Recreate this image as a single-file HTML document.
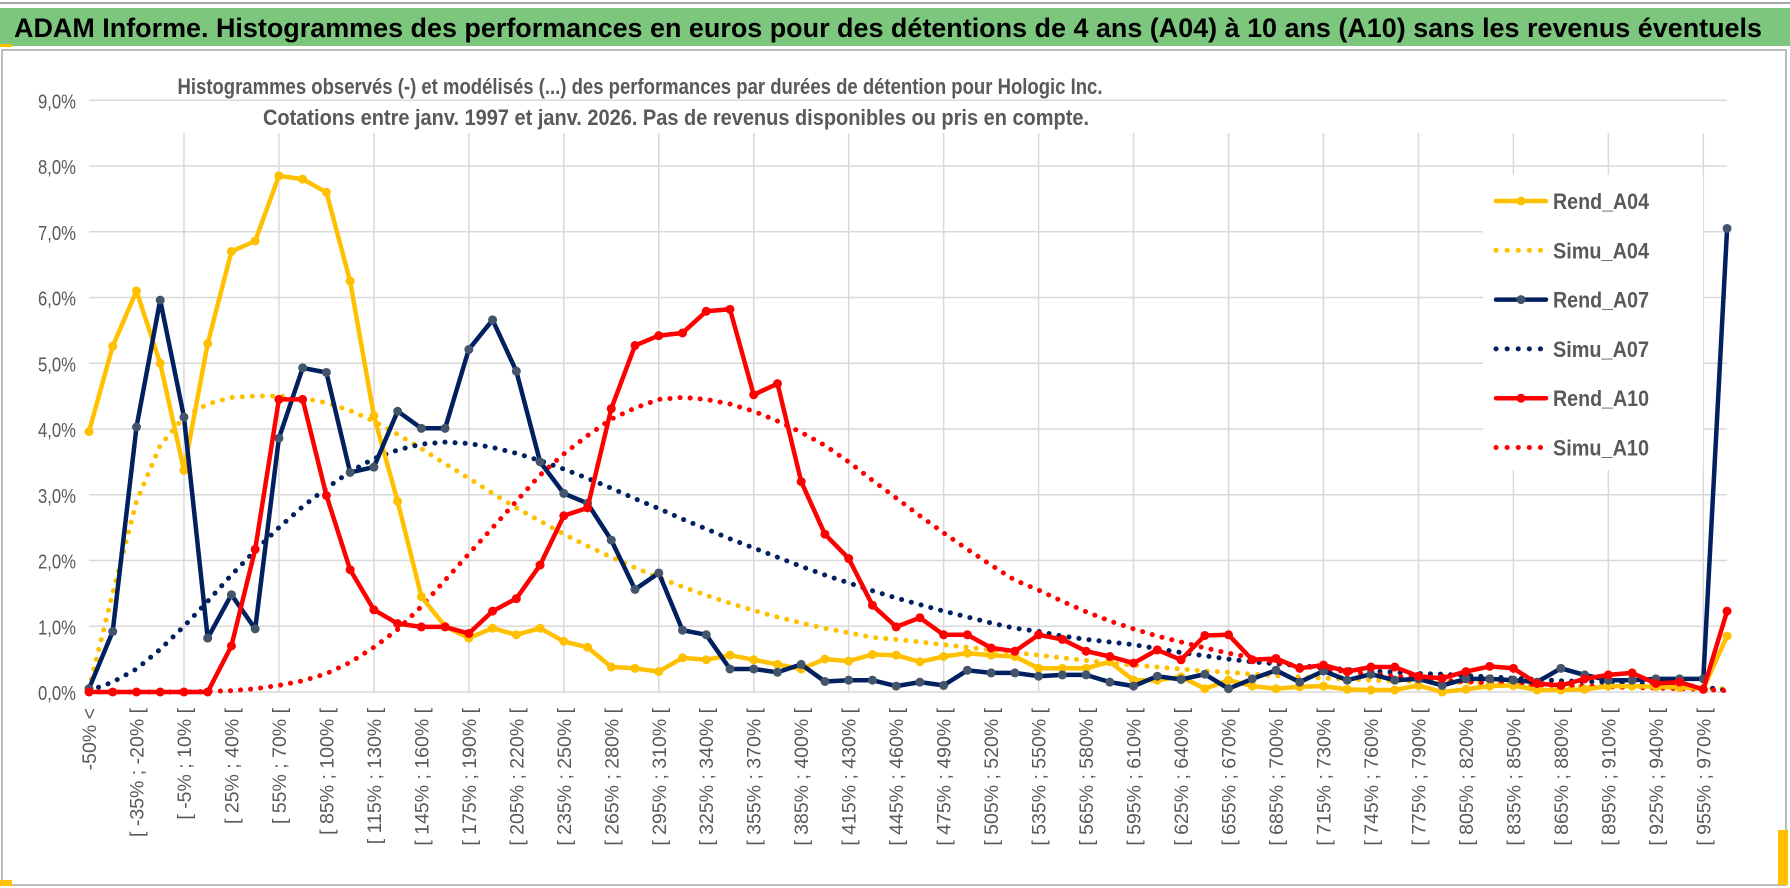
<!DOCTYPE html>
<html><head><meta charset="utf-8"><style>
html,body{margin:0;padding:0;background:#fff;}
svg{display:block;font-family:"Liberation Sans",sans-serif;}
</style></head><body>
<svg id="chart" width="1790" height="888" viewBox="0 0 1790 888" xmlns="http://www.w3.org/2000/svg">
<rect x="0" y="0" width="1790" height="888" fill="#fff"/>
<line x1="0" y1="3" x2="1790" y2="3" stroke="#a6a6a6" stroke-width="2"/>
<rect x="0" y="8" width="1790" height="38" fill="#7dc67e"/>
<rect x="0" y="44" width="12" height="3" fill="#ffc000"/>
<text x="14" y="37" font-size="27" font-weight="bold" fill="#000" textLength="1748" lengthAdjust="spacingAndGlyphs">ADAM Informe. Histogrammes des performances en euros pour des détentions de 4 ans (A04) à 10 ans (A10) sans les revenus éventuels</text>
<rect x="2" y="50" width="1784" height="835" fill="none" stroke="#a6a6a6" stroke-width="1.5"/>
<rect x="1778" y="830" width="10" height="55" fill="#ffc000"/>
<rect x="0" y="880" width="12" height="6" fill="#ffc000"/>
<g id="grid"></g>
<g id="yaxis"></g>
<g id="xaxis"></g>
<rect x="1483" y="175" width="220" height="295" fill="#fff"/>
<text x="640" y="94" text-anchor="middle" font-size="22" font-weight="bold" fill="#595959" textLength="925" lengthAdjust="spacingAndGlyphs">Histogrammes observés (-) et modélisés (...) des performances par durées de détention pour Hologic Inc.</text>
<text x="676" y="125" text-anchor="middle" font-size="22" font-weight="bold" fill="#595959" textLength="826" lengthAdjust="spacingAndGlyphs">Cotations entre janv. 1997 et janv. 2026. Pas de revenus disponibles ou pris en compte.</text>
<g id="series"></g>
<g id="legend"></g>
</svg>
<script>
const rendA04 = [3.96,5.26,6.1,5.0,3.37,5.3,6.7,6.86,7.85,7.8,7.6,6.25,4.2,2.9,1.45,1.0,0.82,0.97,0.87,0.97,0.77,0.68,0.38,0.36,0.31,0.52,0.49,0.56,0.49,0.42,0.35,0.5,0.47,0.57,0.56,0.46,0.54,0.59,0.56,0.54,0.36,0.36,0.36,0.46,0.18,0.18,0.23,0.05,0.18,0.09,0.05,0.08,0.09,0.04,0.03,0.03,0.1,0.0,0.04,0.09,0.1,0.03,0.03,0.04,0.09,0.09,0.08,0.07,0.05,0.85];
const simuA04 = [0.05,1.5,2.9,3.75,4.18,4.38,4.48,4.5,4.5,4.47,4.4,4.28,4.12,3.92,3.7,3.47,3.25,3.02,2.8,2.6,2.4,2.22,2.05,1.89,1.74,1.6,1.47,1.35,1.24,1.14,1.05,0.97,0.9,0.83,0.8,0.76,0.72,0.68,0.64,0.6,0.56,0.52,0.48,0.44,0.41,0.38,0.35,0.32,0.3,0.27,0.25,0.23,0.21,0.2,0.18,0.17,0.16,0.15,0.14,0.13,0.12,0.11,0.1,0.09,0.08,0.07,0.07,0.06,0.05,0.05];
const rendA07 = [0.05,0.92,4.03,5.96,4.18,0.82,1.48,0.96,3.86,4.93,4.86,3.34,3.42,4.27,4.01,4.01,5.21,5.66,4.88,3.5,3.02,2.87,2.31,1.56,1.81,0.94,0.87,0.35,0.35,0.3,0.42,0.16,0.18,0.18,0.09,0.15,0.1,0.33,0.29,0.29,0.24,0.26,0.26,0.15,0.09,0.24,0.19,0.27,0.05,0.2,0.33,0.15,0.32,0.18,0.27,0.18,0.2,0.1,0.2,0.2,0.18,0.15,0.36,0.26,0.18,0.18,0.2,0.2,0.2,7.05];
const simuA07 = [0.02,0.15,0.35,0.65,1.0,1.38,1.78,2.15,2.5,2.82,3.1,3.35,3.55,3.68,3.77,3.8,3.78,3.72,3.63,3.52,3.39,3.25,3.1,2.94,2.79,2.63,2.48,2.33,2.19,2.05,1.91,1.78,1.66,1.54,1.43,1.33,1.23,1.14,1.05,0.97,0.92,0.85,0.8,0.76,0.72,0.66,0.6,0.55,0.5,0.46,0.43,0.4,0.37,0.34,0.32,0.3,0.28,0.27,0.25,0.23,0.21,0.19,0.17,0.16,0.15,0.13,0.12,0.1,0.08,0.02];
const rendA10 = [0,0,0,0,0,0,0.7,2.17,4.45,4.45,2.99,1.86,1.25,1.04,0.99,0.99,0.89,1.23,1.42,1.93,2.68,2.8,4.31,5.27,5.42,5.46,5.79,5.82,4.52,4.69,3.2,2.4,2.03,1.32,0.99,1.13,0.87,0.87,0.67,0.62,0.87,0.8,0.62,0.54,0.44,0.64,0.49,0.86,0.87,0.49,0.51,0.36,0.41,0.31,0.38,0.38,0.24,0.21,0.31,0.39,0.36,0.13,0.1,0.2,0.26,0.29,0.13,0.15,0.04,1.23];
const simuA10 = [0,0,0,0,0,0.01,0.02,0.05,0.1,0.17,0.28,0.45,0.68,0.95,1.3,1.7,2.1,2.5,2.9,3.3,3.62,3.9,4.15,4.32,4.45,4.48,4.45,4.38,4.27,4.12,3.95,3.75,3.5,3.22,2.95,2.68,2.42,2.17,1.93,1.7,1.55,1.38,1.22,1.08,0.96,0.85,0.76,0.67,0.59,0.52,0.45,0.4,0.35,0.31,0.27,0.24,0.21,0.18,0.16,0.14,0.12,0.11,0.1,0.09,0.08,0.07,0.06,0.05,0.04,0.02];
const yTicks = [0,1,2,3,4,5,6,7,8,9];
const catCount = 70;
const seriesNames = ["Rend_A04","Simu_A04","Rend_A07","Simu_A07","Rend_A10","Simu_A10"];

const NS="http://www.w3.org/2000/svg";
const X0=89, DX=23.74, Y0=692, PY=65.75;
const xs=i=>X0+i*DX;
const ys=v=>Y0-v*PY;
function mk(tag,attrs,parent){const e=document.createElementNS(NS,tag);for(const k in attrs)e.setAttribute(k,attrs[k]);parent.appendChild(e);return e;}
function catLabel(i){if(i===0)return "-50% <";const a=-50+15*(i-1);return "[ "+a+"% ; "+(a+15)+"% [";}

const grid=document.getElementById('grid'), yax=document.getElementById('yaxis'), xax=document.getElementById('xaxis');
yTicks.forEach(t=>{
  const l=mk('line',{x1:xs(0),x2:xs(catCount-1),y1:ys(t),y2:ys(t),stroke:'#d9d9d9','stroke-width':1.5},grid);
  
  
  const tx=mk('text',{x:76,y:ys(t)+8,'text-anchor':'end','font-size':20,fill:'#595959',textLength:38,lengthAdjust:'spacingAndGlyphs'},yax);
  tx.textContent=t.toFixed(1).replace('.',',')+'%';
  
  
});
for(let i=4;i<catCount;i+=4){
  const l=mk('line',{x1:xs(i),x2:xs(i),y1:ys(0),y2:ys(8.5),stroke:'#d9d9d9','stroke-width':1.5},grid);
  
  
}
for(let i=0;i<catCount-1;i+=2){
  const x=xs(i)+7, y=708;
  const tx=mk('text',{x:x,y:y,'text-anchor':'end','font-size':19.5,fill:'#595959',transform:'rotate(-90 '+x+' '+y+')'},xax);
  tx.textContent=catLabel(i);
  
  
}

const sg=document.getElementById('series');
function drawSeries(vals,color,dotted,marker,name){
  const g=mk('g',{},sg);
  
  
  const pts=vals.map((v,i)=>xs(i).toFixed(1)+','+ys(v).toFixed(1)).join(' ');
  const pl=mk('polyline',{points:pts,fill:'none',stroke:color,'stroke-width':dotted?5:4.5,'stroke-linejoin':'round','stroke-linecap':'round'},g);
  if(dotted){pl.setAttribute('stroke-dasharray','0.1 10');}
  
  
  if(marker){vals.forEach((v,i)=>{
    const c=mk('circle',{cx:xs(i),cy:ys(v),r:4.5,fill:marker},g);
    
    
  });}
}
drawSeries(simuA04,'#ffc000',true,null,'Simu_A04');
drawSeries(simuA07,'#002060',true,null,'Simu_A07');
drawSeries(simuA10,'#ff0000',true,null,'Simu_A10');
drawSeries(rendA04,'#ffc000',false,'#ffc000','Rend_A04');
drawSeries(rendA07,'#002060',false,'#44546a','Rend_A07');
drawSeries(rendA10,'#ff0000',false,'#ff0000','Rend_A10');

const lg=document.getElementById('legend');
const lcolors=['#ffc000','#ffc000','#002060','#002060','#ff0000','#ff0000'];
const lmark=['#ffc000',null,'#44546a',null,'#ff0000',null];
seriesNames.forEach((n,k)=>{
  const y=201+k*49.3;
  const g=mk('g',{},lg);
  
  
  const dotted=n.startsWith('Simu');
  const l=mk('line',{x1:1496,x2:1546,y1:y,y2:y,stroke:lcolors[k],'stroke-width':dotted?5:4.5,'stroke-linecap':'round'},g);
  if(dotted)l.setAttribute('stroke-dasharray','0.1 11');
  if(lmark[k])mk('circle',{cx:1521,cy:y,r:4.5,fill:lmark[k]},g);
  const t=mk('text',{x:1553,y:y+8,'font-size':22,'font-weight':'bold',fill:'#595959',textLength:96,lengthAdjust:'spacingAndGlyphs'},g);
  t.textContent=n;
});
</script>
</body></html>
